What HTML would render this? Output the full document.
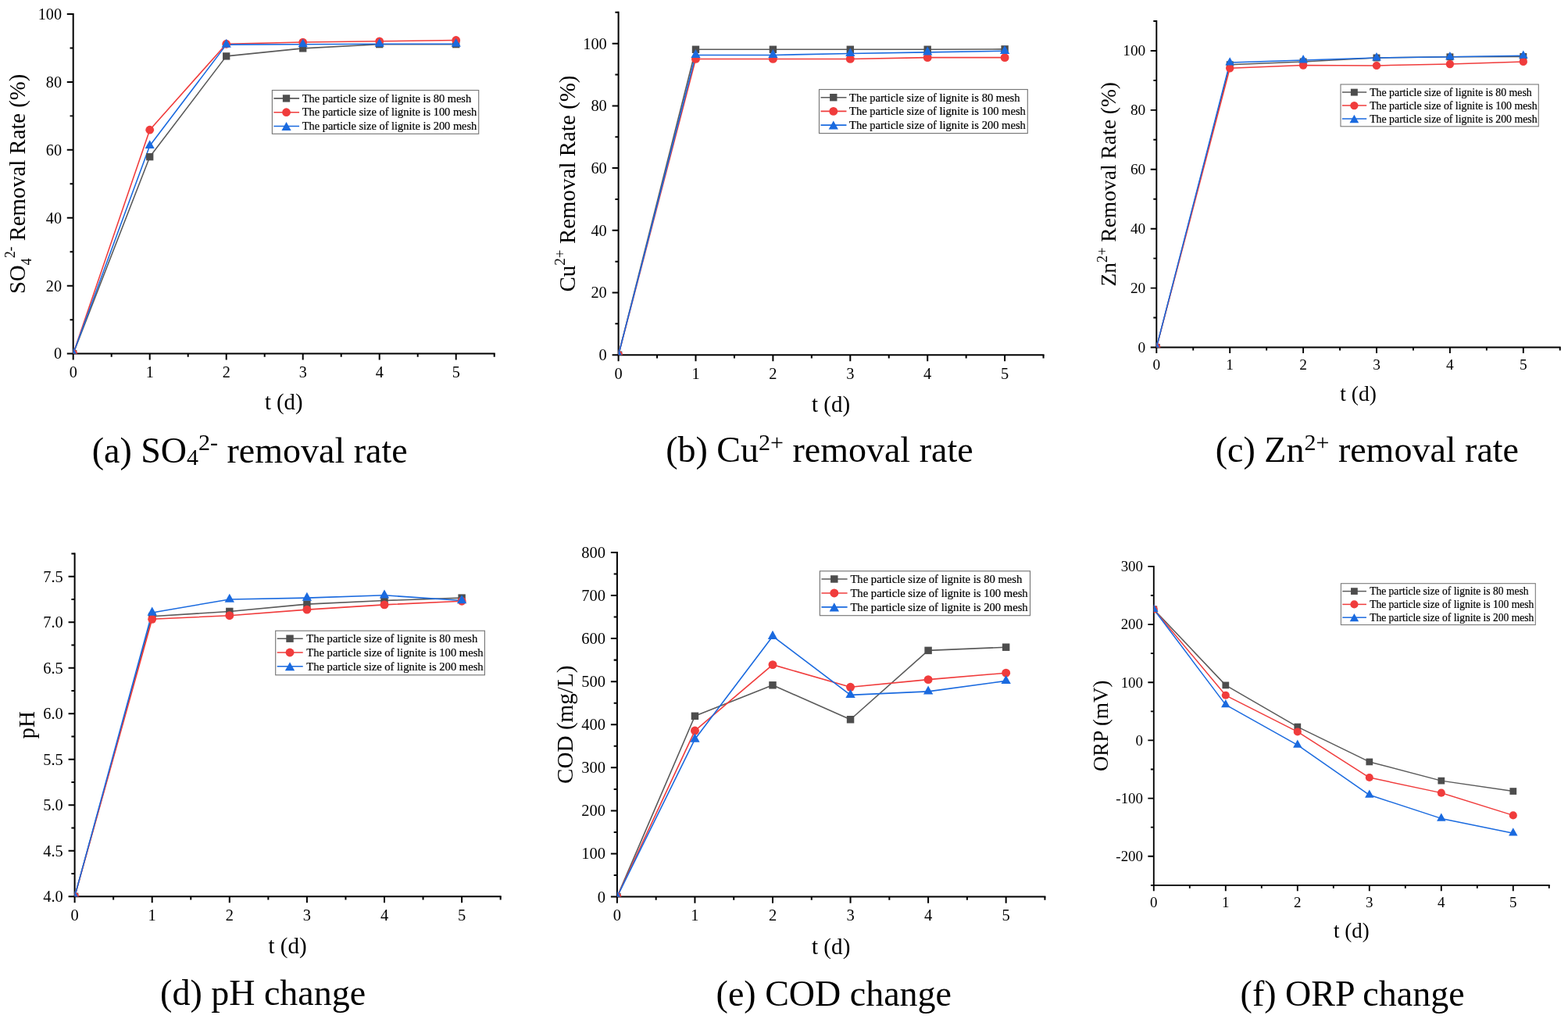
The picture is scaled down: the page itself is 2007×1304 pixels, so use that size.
<!DOCTYPE html>
<html><head><meta charset="utf-8"><title>Figure</title>
<style>html,body{margin:0;padding:0;background:#fff;}svg{display:block;}text{font-family:"Liberation Serif", "Times New Roman", serif;}</style>
</head><body>
<svg width="2007" height="1304" viewBox="0 0 2007 1304" font-family='"Liberation Serif", "Times New Roman", serif'>
<rect width="2007" height="1304" fill="#fff"/>
<g stroke="#000" stroke-width="1.98" fill="none">
<path d="M93.7 17.01V452.6M92.71 452.6H633.69"/>
<path d="M93.7 452.6v7.92M142.7 452.6v4.16M191.7 452.6v7.92M240.7 452.6v4.16M289.7 452.6v7.92M338.7 452.6v4.16M387.7 452.6v7.92M436.7 452.6v4.16M485.7 452.6v7.92M534.7 452.6v4.16M583.7 452.6v7.92M632.7 452.6v4.16M93.7 452.6h-7.92M93.7 409.14h-4.16M93.7 365.68h-7.92M93.7 322.22h-4.16M93.7 278.76h-7.92M93.7 235.3h-4.16M93.7 191.84h-7.92M93.7 148.38h-4.16M93.7 104.92h-7.92M93.7 61.46h-4.16M93.7 18h-7.92"/>
</g>
<g font-size="20.19" fill="#000">
<text x="93.7" y="482.69" text-anchor="middle">0</text>
<text x="191.7" y="482.69" text-anchor="middle">1</text>
<text x="289.7" y="482.69" text-anchor="middle">2</text>
<text x="387.7" y="482.69" text-anchor="middle">3</text>
<text x="485.7" y="482.69" text-anchor="middle">4</text>
<text x="583.7" y="482.69" text-anchor="middle">5</text>
<text x="79.05" y="459.43" text-anchor="end">0</text>
<text x="79.05" y="372.51" text-anchor="end">20</text>
<text x="79.05" y="285.59" text-anchor="end">40</text>
<text x="79.05" y="198.67" text-anchor="end">60</text>
<text x="79.05" y="111.75" text-anchor="end">80</text>
<text x="79.05" y="24.83" text-anchor="end">100</text>
</g>
<clipPath id="clip0"><rect x="93.7" y="18" width="539" height="434.6"/></clipPath>
<g clip-path="url(#clip0)">
<polyline points="93.7,452.6 191.7,200.71 289.7,71.89 387.7,61.89 485.7,56.68 583.7,56.68" fill="none" stroke="#5a5a5a" stroke-width="1.58" stroke-linejoin="round"/>
<polyline points="93.7,452.6 191.7,166.2 289.7,56.24 387.7,54.07 485.7,52.77 583.7,51.46" fill="none" stroke="#f03c3c" stroke-width="1.58" stroke-linejoin="round"/>
<polyline points="93.7,452.6 191.7,186.41 289.7,57.11 387.7,56.68 485.7,56.24 583.7,56.24" fill="none" stroke="#1a6adf" stroke-width="1.58" stroke-linejoin="round"/>
<rect x="89.05" y="447.95" width="9.31" height="9.31" fill="#4d4d4d"/>
<rect x="187.05" y="196.05" width="9.31" height="9.31" fill="#4d4d4d"/>
<rect x="285.05" y="67.24" width="9.31" height="9.31" fill="#4d4d4d"/>
<rect x="383.05" y="57.24" width="9.31" height="9.31" fill="#4d4d4d"/>
<rect x="481.05" y="52.03" width="9.31" height="9.31" fill="#4d4d4d"/>
<rect x="579.05" y="52.03" width="9.31" height="9.31" fill="#4d4d4d"/>
<circle cx="93.7" cy="452.6" r="5.39" fill="#f03c3c"/>
<circle cx="191.7" cy="166.2" r="5.39" fill="#f03c3c"/>
<circle cx="289.7" cy="56.24" r="5.39" fill="#f03c3c"/>
<circle cx="387.7" cy="54.07" r="5.39" fill="#f03c3c"/>
<circle cx="485.7" cy="52.77" r="5.39" fill="#f03c3c"/>
<circle cx="583.7" cy="51.46" r="5.39" fill="#f03c3c"/>
<polygon points="93.7,445.34 99.79,456.23 87.61,456.23" fill="#1a6adf"/>
<polygon points="191.7,179.15 197.79,190.04 185.61,190.04" fill="#1a6adf"/>
<polygon points="289.7,49.85 295.79,60.74 283.61,60.74" fill="#1a6adf"/>
<polygon points="387.7,49.42 393.79,60.31 381.61,60.31" fill="#1a6adf"/>
<polygon points="485.7,48.99 491.79,59.87 479.61,59.87" fill="#1a6adf"/>
<polygon points="583.7,48.99 589.79,59.87 577.61,59.87" fill="#1a6adf"/>
</g>
<rect x="348.4" y="115.5" width="264.3" height="55.8" fill="#fff" stroke="#777" stroke-width="1.14"/>
<path d="M350.38 125.9H383.05" stroke="#5a5a5a" stroke-width="1.58"/>
<rect x="361.86" y="121.25" width="9.31" height="9.31" fill="#4d4d4d"/>
<text x="386.7" y="130.66" font-size="14.42" stroke="#000" stroke-width="0.2">The particle size of lignite is 80 mesh</text>
<path d="M350.38 143.7H383.05" stroke="#f03c3c" stroke-width="1.58"/>
<circle cx="366.52" cy="143.7" r="5.39" fill="#f03c3c"/>
<text x="386.7" y="148.46" font-size="14.42" stroke="#000" stroke-width="0.2">The particle size of lignite is 100 mesh</text>
<path d="M350.38 161.5H383.05" stroke="#1a6adf" stroke-width="1.58"/>
<polygon points="366.52,156.06 372.6,166.94 360.43,166.94" fill="#1a6adf"/>
<text x="386.7" y="166.26" font-size="14.42" stroke="#000" stroke-width="0.2">The particle size of lignite is 200 mesh</text>
<text x="363.2" y="524.37" font-size="28.71" text-anchor="middle">t (d)</text>
<text transform="translate(32.2 235.3) rotate(-90)" font-size="28.71" text-anchor="middle">SO<tspan font-size="17.8" dy="7.46">4</tspan><tspan font-size="17.8" dy="-20.38">2-</tspan><tspan dy="12.92"> Removal Rate (%)</tspan></text>
<text x="117.7" y="591.6" font-size="46">(a) SO<tspan font-size="30" dy="3.3">4</tspan><tspan font-size="30" dy="-18.8">2-</tspan><tspan dy="15.5"> removal rate</tspan></text>
<g stroke="#000" stroke-width="2" fill="none">
<path d="M791.6 14.85V454.2M790.6 454.2H1336.55"/>
<path d="M791.6 454.2v7.99M841.05 454.2v4.2M890.5 454.2v7.99M939.95 454.2v4.2M989.4 454.2v7.99M1038.85 454.2v4.2M1088.3 454.2v7.99M1137.75 454.2v4.2M1187.2 454.2v7.99M1236.65 454.2v4.2M1286.1 454.2v7.99M1335.55 454.2v4.2M791.6 454.2h-7.99M791.6 414.35h-4.2M791.6 374.5h-7.99M791.6 334.65h-4.2M791.6 294.8h-7.99M791.6 254.95h-4.2M791.6 215.1h-7.99M791.6 175.25h-4.2M791.6 135.4h-7.99M791.6 95.55h-4.2M791.6 55.7h-7.99M791.6 15.85h-4.2"/>
</g>
<g font-size="20.38" fill="#000">
<text x="791.6" y="484.57" text-anchor="middle">0</text>
<text x="890.5" y="484.57" text-anchor="middle">1</text>
<text x="989.4" y="484.57" text-anchor="middle">2</text>
<text x="1088.3" y="484.57" text-anchor="middle">3</text>
<text x="1187.2" y="484.57" text-anchor="middle">4</text>
<text x="1286.1" y="484.57" text-anchor="middle">5</text>
<text x="776.81" y="461.09" text-anchor="end">0</text>
<text x="776.81" y="381.39" text-anchor="end">20</text>
<text x="776.81" y="301.69" text-anchor="end">40</text>
<text x="776.81" y="221.99" text-anchor="end">60</text>
<text x="776.81" y="142.29" text-anchor="end">80</text>
<text x="776.81" y="62.59" text-anchor="end">100</text>
</g>
<clipPath id="clip1"><rect x="791.6" y="15.85" width="543.95" height="438.35"/></clipPath>
<g clip-path="url(#clip1)">
<polyline points="791.6,454.2 890.5,63.27 989.4,63.27 1088.3,63.27 1187.2,63.27 1286.1,62.87" fill="none" stroke="#5a5a5a" stroke-width="1.6" stroke-linejoin="round"/>
<polyline points="791.6,454.2 890.5,75.43 989.4,75.43 1088.3,75.43 1187.2,73.63 1286.1,73.63" fill="none" stroke="#f03c3c" stroke-width="1.6" stroke-linejoin="round"/>
<polyline points="791.6,454.2 890.5,70.44 989.4,70.44 1088.3,68.45 1187.2,66.86 1286.1,65.26" fill="none" stroke="#1a6adf" stroke-width="1.6" stroke-linejoin="round"/>
<rect x="786.9" y="449.5" width="9.39" height="9.39" fill="#4d4d4d"/>
<rect x="885.8" y="58.58" width="9.39" height="9.39" fill="#4d4d4d"/>
<rect x="984.7" y="58.58" width="9.39" height="9.39" fill="#4d4d4d"/>
<rect x="1083.6" y="58.58" width="9.39" height="9.39" fill="#4d4d4d"/>
<rect x="1182.5" y="58.58" width="9.39" height="9.39" fill="#4d4d4d"/>
<rect x="1281.4" y="58.18" width="9.39" height="9.39" fill="#4d4d4d"/>
<circle cx="791.6" cy="454.2" r="5.44" fill="#f03c3c"/>
<circle cx="890.5" cy="75.43" r="5.44" fill="#f03c3c"/>
<circle cx="989.4" cy="75.43" r="5.44" fill="#f03c3c"/>
<circle cx="1088.3" cy="75.43" r="5.44" fill="#f03c3c"/>
<circle cx="1187.2" cy="73.63" r="5.44" fill="#f03c3c"/>
<circle cx="1286.1" cy="73.63" r="5.44" fill="#f03c3c"/>
<polygon points="791.6,446.87 797.74,457.86 785.46,457.86" fill="#1a6adf"/>
<polygon points="890.5,63.12 896.64,74.11 884.36,74.11" fill="#1a6adf"/>
<polygon points="989.4,63.12 995.54,74.11 983.26,74.11" fill="#1a6adf"/>
<polygon points="1088.3,61.13 1094.44,72.11 1082.16,72.11" fill="#1a6adf"/>
<polygon points="1187.2,59.53 1193.34,70.52 1181.06,70.52" fill="#1a6adf"/>
<polygon points="1286.1,57.94 1292.24,68.93 1279.96,68.93" fill="#1a6adf"/>
</g>
<rect x="1048.5" y="114.5" width="266.8" height="56.1" fill="#fff" stroke="#777" stroke-width="1.15"/>
<path d="M1050.5 124.7H1083.46" stroke="#5a5a5a" stroke-width="1.6"/>
<rect x="1062.09" y="120" width="9.39" height="9.39" fill="#4d4d4d"/>
<text x="1087" y="129.5" font-size="14.56" stroke="#000" stroke-width="0.2">The particle size of lignite is 80 mesh</text>
<path d="M1050.5 142.4H1083.46" stroke="#f03c3c" stroke-width="1.6"/>
<circle cx="1066.78" cy="142.4" r="5.44" fill="#f03c3c"/>
<text x="1087" y="147.2" font-size="14.56" stroke="#000" stroke-width="0.2">The particle size of lignite is 100 mesh</text>
<path d="M1050.5 160.1H1083.46" stroke="#1a6adf" stroke-width="1.6"/>
<polygon points="1066.78,154.61 1072.93,165.59 1060.64,165.59" fill="#1a6adf"/>
<text x="1087" y="164.9" font-size="14.56" stroke="#000" stroke-width="0.2">The particle size of lignite is 200 mesh</text>
<text x="1063.58" y="526.63" font-size="28.97" text-anchor="middle">t (d)</text>
<text transform="translate(735.6 235.03) rotate(-90)" font-size="28.97" text-anchor="middle">Cu<tspan font-size="19.12" dy="-12.17">2+</tspan><tspan dy="12.17"> Removal Rate (%)</tspan></text>
<text x="852.2" y="591.3" font-size="46">(b) Cu<tspan font-size="30" dy="-15.5">2+</tspan><tspan dy="15.5"> removal rate</tspan></text>
<g stroke="#000" stroke-width="1.9" fill="none">
<path d="M1480.3 26.05V444.5M1479.35 444.5H1997.7"/>
<path d="M1480.3 444.5v7.59M1527.25 444.5v3.98M1574.2 444.5v7.59M1621.15 444.5v3.98M1668.1 444.5v7.59M1715.05 444.5v3.98M1762 444.5v7.59M1808.95 444.5v3.98M1855.9 444.5v7.59M1902.85 444.5v3.98M1949.8 444.5v7.59M1996.75 444.5v3.98M1480.3 444.5h-7.59M1480.3 406.55h-3.98M1480.3 368.59h-7.59M1480.3 330.64h-3.98M1480.3 292.68h-7.59M1480.3 254.73h-3.98M1480.3 216.77h-7.59M1480.3 178.82h-3.98M1480.3 140.86h-7.59M1480.3 102.91h-3.98M1480.3 64.95h-7.59M1480.3 27h-3.98"/>
</g>
<g font-size="19.35" fill="#000">
<text x="1480.3" y="473.33" text-anchor="middle">0</text>
<text x="1574.2" y="473.33" text-anchor="middle">1</text>
<text x="1668.1" y="473.33" text-anchor="middle">2</text>
<text x="1762" y="473.33" text-anchor="middle">3</text>
<text x="1855.9" y="473.33" text-anchor="middle">4</text>
<text x="1949.8" y="473.33" text-anchor="middle">5</text>
<text x="1466.26" y="451.04" text-anchor="end">0</text>
<text x="1466.26" y="375.13" text-anchor="end">20</text>
<text x="1466.26" y="299.22" text-anchor="end">40</text>
<text x="1466.26" y="223.31" text-anchor="end">60</text>
<text x="1466.26" y="147.4" text-anchor="end">80</text>
<text x="1466.26" y="71.49" text-anchor="end">100</text>
</g>
<clipPath id="clip2"><rect x="1480.3" y="27" width="516.45" height="417.5"/></clipPath>
<g clip-path="url(#clip2)">
<polyline points="1480.3,444.5 1574.2,82.76 1668.1,78.92 1762,73.99 1855.9,72.85 1949.8,72.47" fill="none" stroke="#5a5a5a" stroke-width="1.52" stroke-linejoin="round"/>
<polyline points="1480.3,444.5 1574.2,87.31 1668.1,83.51 1762,83.89 1855.9,82 1949.8,78.92" fill="none" stroke="#f03c3c" stroke-width="1.52" stroke-linejoin="round"/>
<polyline points="1480.3,444.5 1574.2,80.1 1668.1,77.02 1762,73.99 1855.9,72.85 1949.8,71.33" fill="none" stroke="#1a6adf" stroke-width="1.52" stroke-linejoin="round"/>
<rect x="1475.84" y="440.04" width="8.92" height="8.92" fill="#4d4d4d"/>
<rect x="1569.74" y="78.3" width="8.92" height="8.92" fill="#4d4d4d"/>
<rect x="1663.64" y="74.46" width="8.92" height="8.92" fill="#4d4d4d"/>
<rect x="1757.54" y="69.53" width="8.92" height="8.92" fill="#4d4d4d"/>
<rect x="1851.44" y="68.39" width="8.92" height="8.92" fill="#4d4d4d"/>
<rect x="1945.34" y="68.01" width="8.92" height="8.92" fill="#4d4d4d"/>
<circle cx="1480.3" cy="444.5" r="5.17" fill="#f03c3c"/>
<circle cx="1574.2" cy="87.31" r="5.17" fill="#f03c3c"/>
<circle cx="1668.1" cy="83.51" r="5.17" fill="#f03c3c"/>
<circle cx="1762" cy="83.89" r="5.17" fill="#f03c3c"/>
<circle cx="1855.9" cy="82" r="5.17" fill="#f03c3c"/>
<circle cx="1949.8" cy="78.92" r="5.17" fill="#f03c3c"/>
<polygon points="1480.3,437.54 1486.13,447.98 1474.47,447.98" fill="#1a6adf"/>
<polygon points="1574.2,73.14 1580.03,83.58 1568.37,83.58" fill="#1a6adf"/>
<polygon points="1668.1,70.07 1673.93,80.5 1662.27,80.5" fill="#1a6adf"/>
<polygon points="1762,67.03 1767.83,77.47 1756.17,77.47" fill="#1a6adf"/>
<polygon points="1855.9,65.89 1861.73,76.33 1850.07,76.33" fill="#1a6adf"/>
<polygon points="1949.8,64.38 1955.63,74.81 1943.97,74.81" fill="#1a6adf"/>
</g>
<rect x="1716" y="108" width="253.3" height="53.8" fill="#fff" stroke="#777" stroke-width="1.09"/>
<path d="M1717.9 118.1H1749.2" stroke="#5a5a5a" stroke-width="1.52"/>
<rect x="1728.9" y="113.64" width="8.92" height="8.92" fill="#4d4d4d"/>
<text x="1753.2" y="122.66" font-size="13.82" stroke="#000" stroke-width="0.2">The particle size of lignite is 80 mesh</text>
<path d="M1717.9 135.05H1749.2" stroke="#f03c3c" stroke-width="1.52"/>
<circle cx="1733.36" cy="135.05" r="5.17" fill="#f03c3c"/>
<text x="1753.2" y="139.61" font-size="13.82" stroke="#000" stroke-width="0.2">The particle size of lignite is 100 mesh</text>
<path d="M1717.9 152H1749.2" stroke="#1a6adf" stroke-width="1.52"/>
<polygon points="1733.36,146.78 1739.19,157.22 1727.52,157.22" fill="#1a6adf"/>
<text x="1753.2" y="156.56" font-size="13.82" stroke="#000" stroke-width="0.2">The particle size of lignite is 200 mesh</text>
<text x="1738.53" y="513.27" font-size="27.51" text-anchor="middle">t (d)</text>
<text transform="translate(1428.3 235.75) rotate(-90)" font-size="27.51" text-anchor="middle">Zn<tspan font-size="18.15" dy="-11.55">2+</tspan><tspan dy="11.55"> Removal Rate (%)</tspan></text>
<text x="1555.8" y="591.3" font-size="46">(c) Zn<tspan font-size="30" dy="-15.5">2+</tspan><tspan dy="15.5"> removal rate</tspan></text>
<g stroke="#000" stroke-width="2" fill="none">
<path d="M95.6 707.5V1147.25M94.6 1147.25H641.65"/>
<path d="M95.6 1147.25v8.01M145.15 1147.25v4.2M194.7 1147.25v8.01M244.25 1147.25v4.2M293.8 1147.25v8.01M343.35 1147.25v4.2M392.9 1147.25v8.01M442.45 1147.25v4.2M492 1147.25v8.01M541.55 1147.25v4.2M591.1 1147.25v8.01M640.65 1147.25v4.2M95.6 1147.25h-8.01M95.6 1118h-4.2M95.6 1088.75h-8.01M95.6 1059.5h-4.2M95.6 1030.25h-8.01M95.6 1001h-4.2M95.6 971.75h-8.01M95.6 942.5h-4.2M95.6 913.25h-8.01M95.6 884h-4.2M95.6 854.75h-8.01M95.6 825.5h-4.2M95.6 796.25h-8.01M95.6 767h-4.2M95.6 737.75h-8.01M95.6 708.5h-4.2"/>
</g>
<g font-size="20.42" fill="#000">
<text x="95.6" y="1177.68" text-anchor="middle">0</text>
<text x="194.7" y="1177.68" text-anchor="middle">1</text>
<text x="293.8" y="1177.68" text-anchor="middle">2</text>
<text x="392.9" y="1177.68" text-anchor="middle">3</text>
<text x="492" y="1177.68" text-anchor="middle">4</text>
<text x="591.1" y="1177.68" text-anchor="middle">5</text>
<text x="80.79" y="1154.15" text-anchor="end">4.0</text>
<text x="80.79" y="1095.65" text-anchor="end">4.5</text>
<text x="80.79" y="1037.15" text-anchor="end">5.0</text>
<text x="80.79" y="978.65" text-anchor="end">5.5</text>
<text x="80.79" y="920.15" text-anchor="end">6.0</text>
<text x="80.79" y="861.65" text-anchor="end">6.5</text>
<text x="80.79" y="803.15" text-anchor="end">7.0</text>
<text x="80.79" y="744.65" text-anchor="end">7.5</text>
</g>
<clipPath id="clip3"><rect x="95.6" y="708.5" width="545.05" height="438.75"/></clipPath>
<g clip-path="url(#clip3)">
<polyline points="95.6,1147.25 194.7,788.76 293.8,782.44 392.9,773.08 492,768.52 591.1,765.13" fill="none" stroke="#5a5a5a" stroke-width="1.6" stroke-linejoin="round"/>
<polyline points="95.6,1147.25 194.7,792.27 293.8,787.71 392.9,780.1 492,773.9 591.1,769.22" fill="none" stroke="#f03c3c" stroke-width="1.6" stroke-linejoin="round"/>
<polyline points="95.6,1147.25 194.7,783.96 293.8,767 392.9,765.13 492,761.74 591.1,768.52" fill="none" stroke="#1a6adf" stroke-width="1.6" stroke-linejoin="round"/>
<rect x="90.9" y="1142.55" width="9.41" height="9.41" fill="#4d4d4d"/>
<rect x="190" y="784.06" width="9.41" height="9.41" fill="#4d4d4d"/>
<rect x="289.1" y="777.74" width="9.41" height="9.41" fill="#4d4d4d"/>
<rect x="388.2" y="768.38" width="9.41" height="9.41" fill="#4d4d4d"/>
<rect x="487.3" y="763.82" width="9.41" height="9.41" fill="#4d4d4d"/>
<rect x="586.4" y="760.42" width="9.41" height="9.41" fill="#4d4d4d"/>
<circle cx="95.6" cy="1147.25" r="5.46" fill="#f03c3c"/>
<circle cx="194.7" cy="792.27" r="5.46" fill="#f03c3c"/>
<circle cx="293.8" cy="787.71" r="5.46" fill="#f03c3c"/>
<circle cx="392.9" cy="780.1" r="5.46" fill="#f03c3c"/>
<circle cx="492" cy="773.9" r="5.46" fill="#f03c3c"/>
<circle cx="591.1" cy="769.22" r="5.46" fill="#f03c3c"/>
<polygon points="95.6,1139.91 101.76,1150.92 89.44,1150.92" fill="#1a6adf"/>
<polygon points="194.7,776.62 200.86,787.64 188.54,787.64" fill="#1a6adf"/>
<polygon points="293.8,759.66 299.96,770.67 287.64,770.67" fill="#1a6adf"/>
<polygon points="392.9,757.79 399.06,768.8 386.74,768.8" fill="#1a6adf"/>
<polygon points="492,754.39 498.16,765.41 485.84,765.41" fill="#1a6adf"/>
<polygon points="591.1,761.18 597.26,772.19 584.94,772.19" fill="#1a6adf"/>
</g>
<rect x="352.7" y="807.2" width="267.7" height="56.6" fill="#fff" stroke="#777" stroke-width="1.15"/>
<path d="M354.7 817.2H387.74" stroke="#5a5a5a" stroke-width="1.6"/>
<rect x="366.31" y="812.5" width="9.41" height="9.41" fill="#4d4d4d"/>
<text x="392.3" y="822.01" font-size="14.58" stroke="#000" stroke-width="0.2">The particle size of lignite is 80 mesh</text>
<path d="M354.7 835H387.74" stroke="#f03c3c" stroke-width="1.6"/>
<circle cx="371.02" cy="835" r="5.46" fill="#f03c3c"/>
<text x="392.3" y="839.81" font-size="14.58" stroke="#000" stroke-width="0.2">The particle size of lignite is 100 mesh</text>
<path d="M354.7 852.8H387.74" stroke="#1a6adf" stroke-width="1.6"/>
<polygon points="371.02,847.29 377.17,858.31 364.86,858.31" fill="#1a6adf"/>
<text x="392.3" y="857.61" font-size="14.58" stroke="#000" stroke-width="0.2">The particle size of lignite is 200 mesh</text>
<text x="368.12" y="1219.82" font-size="29.03" text-anchor="middle">t (d)</text>
<text transform="translate(43.6 927.88) rotate(-90)" font-size="29.03" text-anchor="middle">pH</text>
<text x="205.1" y="1286.2" font-size="46">(d) pH change</text>
<g stroke="#000" stroke-width="2.01" fill="none">
<path d="M789.9 705.89V1147.6M788.89 1147.6H1338.43"/>
<path d="M789.9 1147.6v8.04M839.67 1147.6v4.22M889.45 1147.6v8.04M939.22 1147.6v4.22M989 1147.6v8.04M1038.78 1147.6v4.22M1088.55 1147.6v8.04M1138.33 1147.6v4.22M1188.1 1147.6v8.04M1237.88 1147.6v4.22M1287.65 1147.6v8.04M1337.42 1147.6v4.22M789.9 1147.6h-8.04M789.9 1120.06h-4.22M789.9 1092.51h-8.04M789.9 1064.97h-4.22M789.9 1037.42h-8.04M789.9 1009.88h-4.22M789.9 982.34h-8.04M789.9 954.79h-4.22M789.9 927.25h-8.04M789.9 899.71h-4.22M789.9 872.16h-8.04M789.9 844.62h-4.22M789.9 817.08h-8.04M789.9 789.53h-4.22M789.9 761.99h-8.04M789.9 734.44h-4.22M789.9 706.9h-8.04"/>
</g>
<g font-size="20.51" fill="#000">
<text x="789.9" y="1178.17" text-anchor="middle">0</text>
<text x="889.45" y="1178.17" text-anchor="middle">1</text>
<text x="989" y="1178.17" text-anchor="middle">2</text>
<text x="1088.55" y="1178.17" text-anchor="middle">3</text>
<text x="1188.1" y="1178.17" text-anchor="middle">4</text>
<text x="1287.65" y="1178.17" text-anchor="middle">5</text>
<text x="775.02" y="1154.53" text-anchor="end">0</text>
<text x="775.02" y="1099.45" text-anchor="end">100</text>
<text x="775.02" y="1044.36" text-anchor="end">200</text>
<text x="775.02" y="989.27" text-anchor="end">300</text>
<text x="775.02" y="934.18" text-anchor="end">400</text>
<text x="775.02" y="879.1" text-anchor="end">500</text>
<text x="775.02" y="824.01" text-anchor="end">600</text>
<text x="775.02" y="768.92" text-anchor="end">700</text>
<text x="775.02" y="713.83" text-anchor="end">800</text>
</g>
<clipPath id="clip4"><rect x="789.9" y="706.9" width="547.52" height="440.7"/></clipPath>
<g clip-path="url(#clip4)">
<polyline points="789.9,1147.6 889.45,916.29 989,876.79 1088.55,920.75 1188.1,832.39 1287.65,828.2" fill="none" stroke="#5a5a5a" stroke-width="1.61" stroke-linejoin="round"/>
<polyline points="789.9,1147.6 889.45,935.07 989,850.62 1088.55,879.32 1188.1,869.63 1287.65,861.2" fill="none" stroke="#f03c3c" stroke-width="1.61" stroke-linejoin="round"/>
<polyline points="789.9,1147.6 889.45,945.98 989,814.21 1088.55,889.4 1188.1,884.83 1287.65,871.34" fill="none" stroke="#1a6adf" stroke-width="1.61" stroke-linejoin="round"/>
<rect x="785.17" y="1142.87" width="9.45" height="9.45" fill="#4d4d4d"/>
<rect x="884.72" y="911.56" width="9.45" height="9.45" fill="#4d4d4d"/>
<rect x="984.27" y="872.06" width="9.45" height="9.45" fill="#4d4d4d"/>
<rect x="1083.82" y="916.02" width="9.45" height="9.45" fill="#4d4d4d"/>
<rect x="1183.37" y="827.66" width="9.45" height="9.45" fill="#4d4d4d"/>
<rect x="1282.92" y="823.48" width="9.45" height="9.45" fill="#4d4d4d"/>
<circle cx="789.9" cy="1147.6" r="5.48" fill="#f03c3c"/>
<circle cx="889.45" cy="935.07" r="5.48" fill="#f03c3c"/>
<circle cx="989" cy="850.62" r="5.48" fill="#f03c3c"/>
<circle cx="1088.55" cy="879.32" r="5.48" fill="#f03c3c"/>
<circle cx="1188.1" cy="869.63" r="5.48" fill="#f03c3c"/>
<circle cx="1287.65" cy="861.2" r="5.48" fill="#f03c3c"/>
<polygon points="789.9,1140.23 796.08,1151.29 783.72,1151.29" fill="#1a6adf"/>
<polygon points="889.45,938.61 895.63,949.67 883.27,949.67" fill="#1a6adf"/>
<polygon points="989,806.84 995.18,817.9 982.82,817.9" fill="#1a6adf"/>
<polygon points="1088.55,882.03 1094.73,893.09 1082.37,893.09" fill="#1a6adf"/>
<polygon points="1188.1,877.46 1194.28,888.52 1181.92,888.52" fill="#1a6adf"/>
<polygon points="1287.65,863.96 1293.83,875.02 1281.47,875.02" fill="#1a6adf"/>
</g>
<rect x="1049.4" y="730.8" width="269.1" height="56.9" fill="#fff" stroke="#777" stroke-width="1.16"/>
<path d="M1051.41 741H1084.59" stroke="#5a5a5a" stroke-width="1.61"/>
<rect x="1063.08" y="736.27" width="9.45" height="9.45" fill="#4d4d4d"/>
<text x="1088.4" y="745.83" font-size="14.65" stroke="#000" stroke-width="0.2">The particle size of lignite is 80 mesh</text>
<path d="M1051.41 758.95H1084.59" stroke="#f03c3c" stroke-width="1.61"/>
<circle cx="1067.8" cy="758.95" r="5.48" fill="#f03c3c"/>
<text x="1088.4" y="763.78" font-size="14.65" stroke="#000" stroke-width="0.2">The particle size of lignite is 100 mesh</text>
<path d="M1051.41 776.9H1084.59" stroke="#1a6adf" stroke-width="1.61"/>
<polygon points="1067.8,771.37 1073.99,782.43 1061.62,782.43" fill="#1a6adf"/>
<text x="1088.4" y="781.73" font-size="14.65" stroke="#000" stroke-width="0.2">The particle size of lignite is 200 mesh</text>
<text x="1063.66" y="1220.5" font-size="29.16" text-anchor="middle">t (d)</text>
<text transform="translate(733.1 927.25) rotate(-90)" font-size="29.16" text-anchor="middle">COD (mg/L)</text>
<text x="916.6" y="1286.7" font-size="46">(e) COD change</text>
<g stroke="#000" stroke-width="1.86" fill="none">
<path d="M1476.8 723.97V1132.85M1475.87 1132.85H1983.73"/>
<path d="M1476.8 1132.85v7.43M1522.8 1132.85v3.9M1568.8 1132.85v7.43M1614.8 1132.85v3.9M1660.8 1132.85v7.43M1706.8 1132.85v3.9M1752.8 1132.85v7.43M1798.8 1132.85v3.9M1844.8 1132.85v7.43M1890.8 1132.85v3.9M1936.8 1132.85v7.43M1982.8 1132.85v3.9M1476.8 1132.85h-3.9M1476.8 1095.76h-7.43M1476.8 1058.68h-3.9M1476.8 1021.59h-7.43M1476.8 984.5h-3.9M1476.8 947.42h-7.43M1476.8 910.33h-3.9M1476.8 873.25h-7.43M1476.8 836.16h-3.9M1476.8 799.07h-7.43M1476.8 761.99h-3.9M1476.8 724.9h-7.43"/>
</g>
<g font-size="18.96" fill="#000">
<text x="1476.8" y="1161.1" text-anchor="middle">0</text>
<text x="1568.8" y="1161.1" text-anchor="middle">1</text>
<text x="1660.8" y="1161.1" text-anchor="middle">2</text>
<text x="1752.8" y="1161.1" text-anchor="middle">3</text>
<text x="1844.8" y="1161.1" text-anchor="middle">4</text>
<text x="1936.8" y="1161.1" text-anchor="middle">5</text>
<text x="1463.05" y="1102.17" text-anchor="end">-200</text>
<text x="1463.05" y="1028" text-anchor="end">-100</text>
<text x="1463.05" y="953.83" text-anchor="end">0</text>
<text x="1463.05" y="879.65" text-anchor="end">100</text>
<text x="1463.05" y="805.48" text-anchor="end">200</text>
<text x="1463.05" y="731.31" text-anchor="end">300</text>
</g>
<clipPath id="clip5"><rect x="1476.8" y="724.9" width="506" height="407.95"/></clipPath>
<g clip-path="url(#clip5)">
<polyline points="1476.8,779.71 1568.8,876.88 1660.8,930.06 1752.8,974.94 1844.8,999.12 1936.8,1012.54" fill="none" stroke="#5a5a5a" stroke-width="1.49" stroke-linejoin="round"/>
<polyline points="1476.8,779.71 1568.8,889.79 1660.8,936.44 1752.8,995.04 1844.8,1014.62 1936.8,1043.4" fill="none" stroke="#f03c3c" stroke-width="1.49" stroke-linejoin="round"/>
<polyline points="1476.8,779.71 1568.8,901.88 1660.8,953.35 1752.8,1017.29 1844.8,1047.4 1936.8,1066.17" fill="none" stroke="#1a6adf" stroke-width="1.49" stroke-linejoin="round"/>
<rect x="1472.43" y="775.35" width="8.74" height="8.74" fill="#4d4d4d"/>
<rect x="1564.43" y="872.51" width="8.74" height="8.74" fill="#4d4d4d"/>
<rect x="1656.43" y="925.69" width="8.74" height="8.74" fill="#4d4d4d"/>
<rect x="1748.43" y="970.57" width="8.74" height="8.74" fill="#4d4d4d"/>
<rect x="1840.43" y="994.75" width="8.74" height="8.74" fill="#4d4d4d"/>
<rect x="1932.43" y="1008.17" width="8.74" height="8.74" fill="#4d4d4d"/>
<circle cx="1476.8" cy="779.71" r="5.06" fill="#f03c3c"/>
<circle cx="1568.8" cy="889.79" r="5.06" fill="#f03c3c"/>
<circle cx="1660.8" cy="936.44" r="5.06" fill="#f03c3c"/>
<circle cx="1752.8" cy="995.04" r="5.06" fill="#f03c3c"/>
<circle cx="1844.8" cy="1014.62" r="5.06" fill="#f03c3c"/>
<circle cx="1936.8" cy="1043.4" r="5.06" fill="#f03c3c"/>
<polygon points="1476.8,772.9 1482.52,783.12 1471.08,783.12" fill="#1a6adf"/>
<polygon points="1568.8,895.06 1574.52,905.28 1563.08,905.28" fill="#1a6adf"/>
<polygon points="1660.8,946.54 1666.52,956.76 1655.08,956.76" fill="#1a6adf"/>
<polygon points="1752.8,1010.47 1758.52,1020.7 1747.08,1020.7" fill="#1a6adf"/>
<polygon points="1844.8,1040.59 1850.52,1050.81 1839.08,1050.81" fill="#1a6adf"/>
<polygon points="1936.8,1059.35 1942.52,1069.58 1931.08,1069.58" fill="#1a6adf"/>
</g>
<rect x="1716.4" y="746.7" width="248.9" height="52.9" fill="#fff" stroke="#777" stroke-width="1.07"/>
<path d="M1718.26 756.6H1748.93" stroke="#5a5a5a" stroke-width="1.49"/>
<rect x="1729.04" y="752.23" width="8.74" height="8.74" fill="#4d4d4d"/>
<text x="1753.2" y="761.07" font-size="13.54" stroke="#000" stroke-width="0.2">The particle size of lignite is 80 mesh</text>
<path d="M1718.26 773.4H1748.93" stroke="#f03c3c" stroke-width="1.49"/>
<circle cx="1733.41" cy="773.4" r="5.06" fill="#f03c3c"/>
<text x="1753.2" y="777.87" font-size="13.54" stroke="#000" stroke-width="0.2">The particle size of lignite is 100 mesh</text>
<path d="M1718.26 790.2H1748.93" stroke="#1a6adf" stroke-width="1.49"/>
<polygon points="1733.41,785.09 1739.12,795.31 1727.69,795.31" fill="#1a6adf"/>
<text x="1753.2" y="794.67" font-size="13.54" stroke="#000" stroke-width="0.2">The particle size of lignite is 200 mesh</text>
<text x="1729.8" y="1200.22" font-size="26.95" text-anchor="middle">t (d)</text>
<text transform="translate(1418.1 928.88) rotate(-90)" font-size="26.95" text-anchor="middle">ORP (mV)</text>
<text x="1587.6" y="1286.8" font-size="46">(f) ORP change</text>
</svg>
</body></html>
